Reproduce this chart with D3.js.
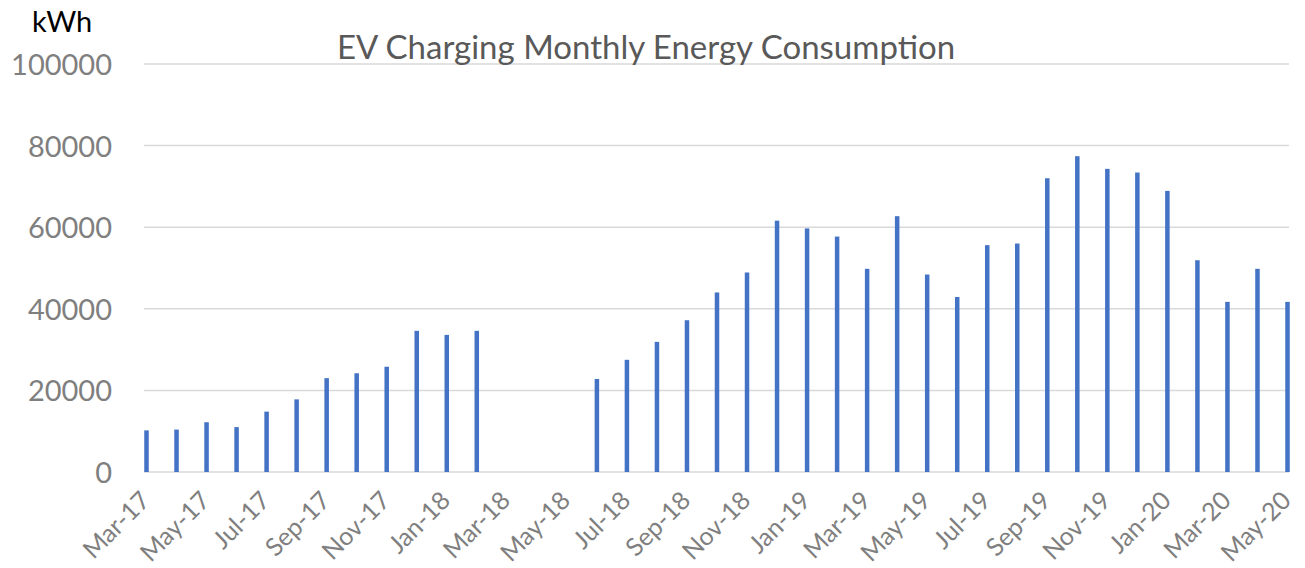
<!DOCTYPE html>
<html>
<head>
<meta charset="utf-8">
<script src="https://cdn.jsdelivr.net/npm/d3@7"></script>
<style>
  body { margin: 0; background: #fff; }
  svg { display: block; font-family: Lato, "Open Sans", sans-serif; }
</style>
</head>
<body>
<svg id="energy-chart" width="1305" height="568"></svg>
<script>
// month labels, Mar-17 .. May-20
const months = ["Mar-17","Apr-17","May-17","Jun-17","Jul-17","Aug-17","Sep-17","Oct-17","Nov-17","Dec-17",
    "Jan-18","Feb-18","Mar-18","Apr-18","May-18","Jun-18","Jul-18","Aug-18","Sep-18","Oct-18","Nov-18","Dec-18",
    "Jan-19","Feb-19","Mar-19","Apr-19","May-19","Jun-19","Jul-19","Aug-19","Sep-19","Oct-19","Nov-19","Dec-19",
    "Jan-20","Feb-20","Mar-20","Apr-20","May-20"];

// kWh per month (null = no data)
const energy = [10200, 10400, 12200, 11000, 14800, 17800, 23000, 24200, 25800, 34600,
    33600, 34600, null, null, null, 22800, 27500, 31900, 37200, 44000, 48900, 61600,
    59700, 57700, 49800, 62700, 48400, 42900, 55600, 56000, 72000, 77400, 74300, 73400,
    68900, 51900, 41700, 49800, 41700];

const yTicks = [0, 20000, 40000, 60000, 80000, 100000];

const titleText = "EV Charging Monthly Energy Consumption";
const unitText = "kWh";

var svg = d3.select('#energy-chart');

var x = d3.scalePoint()
    .domain(months)
    .range([146.5, 1287.5]);

var y = d3.scaleLinear()
    .domain([0, 100000])
    .range([472, 64]);

//gridlines
svg.append("g")
    .selectAll("line")
    .data(yTicks)
    .enter().append("line")
    .attr("x1", 144)
    .attr("x2", 1289)
    .attr("y1", d => y(d))
    .attr("y2", d => y(d))
    .attr("stroke", "#d9d9d9")
    .attr("stroke-width", 1.5);

//y tick labels
svg.append("g")
    .selectAll("text")
    .data(yTicks)
    .enter().append("text")
    .attr("x", 112)
    .attr("y", d => y(d) + 11)
    .attr("text-anchor", "end")
    .attr("fill", "#7f7f7f")
    .attr("font-size", 29)
    .text(d => d);

//bars
var data = months.map((m, i) => ({month: m, value: energy[i]})).filter(d => d.value != null);
svg.append("g")
    .selectAll("rect")
    .data(data)
    .enter().append("rect")
    .attr("x", d => x(d.month) - 2.25)
    .attr("width", 4.5)
    .attr("y", d => y(d.value))
    .attr("height", d => y(0) - y(d.value))
    .attr("fill", "#4472c4");

//x labels every other month
svg.append("g")
    .selectAll("text")
    .data(months.filter((m, i) => i % 2 == 0))
    .enter().append("text")
    .attr("transform", d => "translate(" + (x(d) + 5) + ",502) rotate(-45)")
    .attr("text-anchor", "end")
    .attr("fill", "#7f7f7f")
    .attr("font-size", 25)
    .text(d => d);

//title and unit
svg.append("text")
    .attr("x", 646)
    .attr("y", 59)
    .attr("text-anchor", "middle")
    .attr("fill", "#595959")
    .attr("font-size", 33)
    .text(titleText);

svg.append("text")
    .attr("x", 32)
    .attr("y", 32)
    .attr("fill", "#000")
    .attr("font-size", 29)
    .text(unitText);
</script>
</body>
</html>
